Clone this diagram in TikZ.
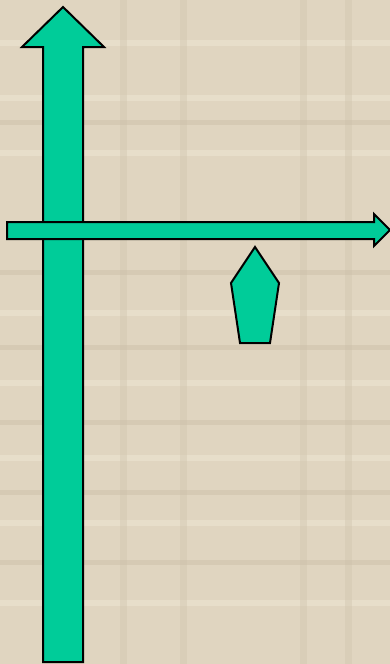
\documentclass[tikz,border=0pt]{standalone}
\usepackage{tikz}
\usetikzlibrary{calc}
\usepackage{xcolor}
\definecolor{ArrowGreen}{RGB}{0, 204, 153}
\definecolor{PaperBeige}{RGB}{224, 213, 192}
\definecolor{PaperLine}{RGB}{236, 228, 210}
\definecolor{PaperDark}{RGB}{205, 193, 170}

\begin{document}
\begin{tikzpicture}[x=1pt, y=-1pt,
    greenpart/.style={draw=black, line width=2pt, fill=ArrowGreen, line join=miter}]
    % background
    \fill[PaperBeige] (0,0) rectangle (390,664);
    \useasboundingbox (0,0) rectangle (390,664);
    \foreach \y in {40,95,150,310,380,455,520,600}
        \fill[PaperLine, opacity=0.6] (0,\y) rectangle (390,\y+6);
    \foreach \y in {120,270,345,420,490,560}
        \fill[PaperDark, opacity=0.5] (0,\y) rectangle (390,\y+5);
    \foreach \x in {120,180,300,345}
        \fill[PaperDark, opacity=0.35] (\x,0) rectangle (\x+7,664);

    % vertical arrow
    \draw[greenpart] (43,662) -- (43,47) -- (22,47) -- (63,7) -- (104,47) -- (83,47) -- (83,662) -- cycle;

    % horizontal arrow
    \draw[greenpart] (7,222) -- (374,222) -- (374,214) -- (390,230) -- (374,246) -- (374,239) -- (7,239) -- cycle;

    % pentagon
    \draw[greenpart] (255,247) -- (279,283) -- (270,343) -- (240,343) -- (231,283) -- cycle;
  \end{tikzpicture}
\end{document}
